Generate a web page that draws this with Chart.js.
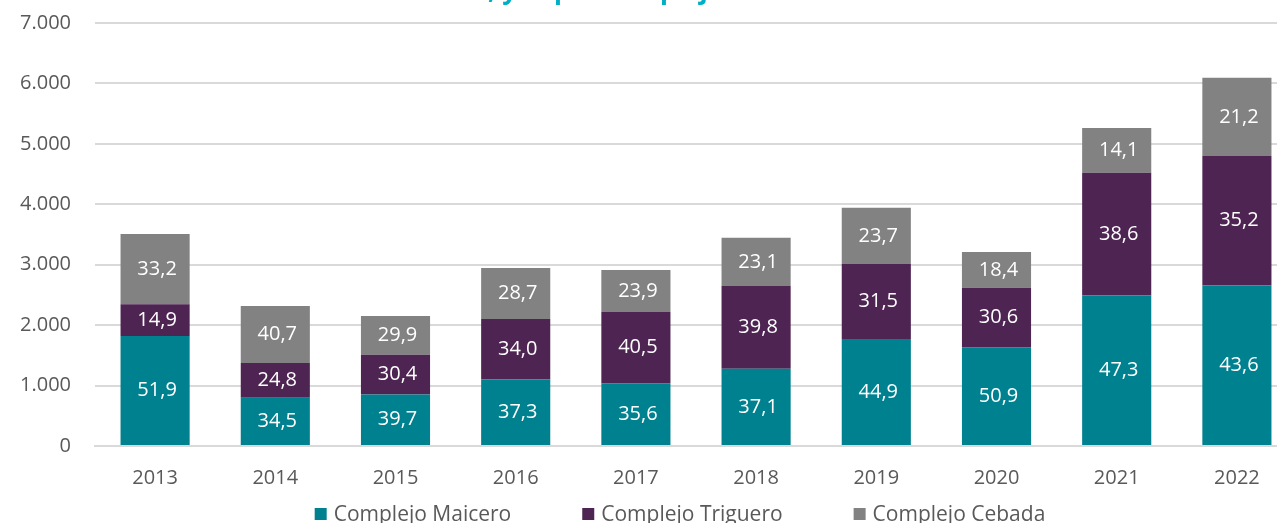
<!DOCTYPE html>
<html>
<head>
<meta charset="utf-8">
<script src="https://cdn.jsdelivr.net/npm/chart.js@4.4.1/dist/chart.umd.min.js"></script>
<style>
  html, body { margin: 0; padding: 0; background: #fff; overflow: hidden; }
  #wrap { position: absolute; left: 0; top: -13px; width: 1300px; height: 594px; }
</style>
</head>
<body>
<div id="wrap"><canvas id="grafico" width="1300" height="594"></canvas></div>
<script>
// Datos (millones de US$) y participacion (%)
const anios = ['2013', '2014', '2015', '2016', '2017', '2018', '2019', '2020', '2021', '2022'];
const maicero = [1822, 800, 854, 1099, 1037, 1278, 1769, 1635, 2490, 2656];
const triguero = [523, 575, 654, 1002, 1180, 1371, 1241, 983, 2032, 2145];
const cebada = [1165, 943, 644, 846, 696, 796, 934, 591, 742, 1292];
const pctMaicero = ['51,9', '34,5', '39,7', '37,3', '35,6', '37,1', '44,9', '50,9', '47,3', '43,6'];
const pctTriguero = ['14,9', '24,8', '30,4', '34,0', '40,5', '39,8', '31,5', '30,6', '38,6', '35,2'];
const pctCebada = ['33,2', '40,7', '29,9', '28,7', '23,9', '23,1', '23,7', '18,4', '14,1', '21,2'];
const yTicks = [0, 1000, 2000, 3000, 4000, 5000, 6000, 7000];
// el titulo queda cortado arriba: solo asoman los trazos bajo la linea base
const tituloInicio = 'Valores en millones';
const tituloResto = ', y % por complejo';

const FONT = "'Open Sans', sans-serif";

// etiquetas blancas dentro de cada segmento
const etiquetasPlugin = {
    id: 'etiquetas',
    afterDatasetsDraw(chart) {
        const ctx = chart.ctx;
        const listas = [pctMaicero, pctTriguero, pctCebada];
        ctx.save();
        ctx.fillStyle = '#ffffff';
        ctx.font = '20px ' + FONT;
        ctx.textAlign = 'center';
        ctx.textBaseline = 'middle';
        chart.data.datasets.forEach((ds, i) => {
            const meta = chart.getDatasetMeta(i);
            meta.data.forEach((bar, j) => {
                ctx.fillText(listas[i][j], bar.x + 2, (bar.y + bar.base) / 2);
            });
        });
        ctx.restore();
    }
};

const tituloPlugin = {
    id: 'tituloRecortado',
    afterDraw(chart) {
        const ctx = chart.ctx;
        ctx.save();
        ctx.fillStyle = '#00AFC3';
        ctx.font = 'bold 26px ' + FONT;
        ctx.textAlign = 'left';
        ctx.textBaseline = 'alphabetic';
        const x0 = 488 - ctx.measureText(tituloInicio).width;
        ctx.fillText(tituloInicio + tituloResto, x0, 12);
        ctx.restore();
    }
};

// leyenda dibujada a mano debajo del eje
const leyendaPlugin = {
    id: 'leyendaAbajo',
    afterDraw(chart) {
        const ctx = chart.ctx;
        const ds = chart.data.datasets;
        const caja = 12, sep = 7, hueco = 71;
        ctx.save();
        ctx.font = '21px ' + FONT;
        ctx.textBaseline = 'middle';
        const anchos = ds.map(d => caja + sep + ctx.measureText(d.label).width);
        const total = anchos.reduce((a, b) => a + b, 0) + hueco * (ds.length - 1);
        const centro = (chart.chartArea.left + chart.chartArea.right) / 2 - 16;
        const y = chart.chartArea.bottom + 69;
        let x = centro - total / 2;
        ds.forEach((d, i) => {
            ctx.fillStyle = d.backgroundColor;
            ctx.fillRect(x, y - 7, caja, caja);
            ctx.fillStyle = '#595959';
            ctx.fillText(d.label, x + caja + sep, y);
            x += anchos[i] + hueco;
        });
        ctx.restore();
    }
};

const ctx = document.getElementById('grafico').getContext('2d');
const grafico = new Chart(ctx, {
    type: 'bar',
    data: {
        labels: anios,
        datasets: [
            { label: 'Complejo Maicero', data: maicero, backgroundColor: '#00818F' },
            { label: 'Complejo Triguero', data: triguero, backgroundColor: '#4E2452' },
            { label: 'Complejo Cebada', data: cebada, backgroundColor: '#828282' }
        ]
    },
    options: {
        responsive: false,
        animation: false,
        layout: { padding: { top: 9, right: 3, left: 0, bottom: 71 } },
        datasets: { bar: { barPercentage: 0.575, categoryPercentage: 1 } },
        plugins: {
            legend: { display: false },
            tooltip: { enabled: false },
            title: { display: false }
        },
        scales: {
            x: {
                stacked: true,
                grid: { display: false, drawTicks: false },
                border: { color: '#d9d9d9', width: 2 },
                ticks: { color: '#595959', font: { family: FONT, size: 20 }, padding: 20 }
            },
            y: {
                stacked: true,
                min: 0, max: 7000,
                afterBuildTicks(scale) { scale.ticks = yTicks.map(v => ({ value: v })); },
                afterFit(scale) { scale.width = 95; },
                grid: { color: '#d9d9d9', lineWidth: 2, drawTicks: false },
                border: { display: false },
                ticks: {
                    color: '#595959', font: { family: FONT, size: 20 }, padding: 24,
                    callback: v => v.toLocaleString('es-AR')
                }
            }
        }
    },
    plugins: [etiquetasPlugin, tituloPlugin, leyendaPlugin]
});
</script>
</body>
</html>
